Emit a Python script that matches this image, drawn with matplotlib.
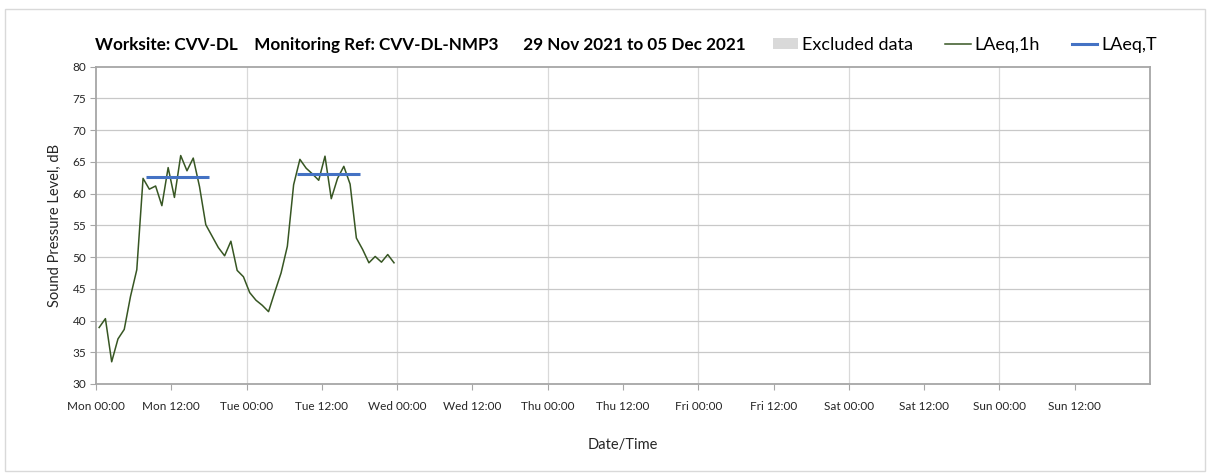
import matplotlib
matplotlib.use("Agg")
import matplotlib.pyplot as plt
from matplotlib.patches import Patch, Rectangle
from matplotlib.lines import Line2D

plt.rcParams['font.family'] = ['Lato', 'DejaVu Sans']

# Hourly LAeq,1h values (hour offset from Mon 00:00, plotted at mid-hour)
hours = [h + 0.5 for h in range(48)]
laeq_1h = [38.9, 40.3, 33.5, 37.1, 38.6, 43.8, 48.0, 62.4, 60.7, 61.2,
           58.1, 64.1, 59.4, 66.0, 63.6, 65.6, 61.1, 55.1, 53.3, 51.5,
           50.2, 52.5, 47.9, 46.9, 44.4, 43.2, 42.4, 41.4, 44.5, 47.5,
           51.7, 61.4, 65.4, 64.0, 63.1, 62.1, 65.9, 59.2, 62.4, 64.3,
           61.5, 53.0, 51.2, 49.1, 50.1, 49.2, 50.4, 49.1]

# LAeq,T daytime periods (start hour, end hour, level)
laeqT_start = [8, 32]
laeqT_end = [18, 42]
laeqT_level = [62.6, 63.1]

tick_hours = list(range(0, 168, 12))
tick_labels = ['Mon 00:00', 'Mon 12:00', 'Tue 00:00', 'Tue 12:00', 'Wed 00:00',
               'Wed 12:00', 'Thu 00:00', 'Thu 12:00', 'Fri 00:00', 'Fri 12:00',
               'Sat 00:00', 'Sat 12:00', 'Sun 00:00', 'Sun 12:00']
y_ticks = list(range(30, 81, 5))

fig = plt.figure(figsize=(12.08, 4.73), dpi=100)
fig.patches.append(Rectangle((5/1208, 2/473), 1200/1208, 462/473, transform=fig.transFigure,
                             fill=False, edgecolor='#D9D9D9', linewidth=1))
ax = fig.add_axes([96/1208, 1-384/473, (1150-96)/1208, (384-66.7)/473])

ax.plot(hours, laeq_1h, color='#375623', linewidth=1.1, zorder=3)
for s, e, v in zip(laeqT_start, laeqT_end, laeqT_level):
    ax.plot([s, e], [v, v], color='#4472C4', linewidth=2.2, solid_capstyle='butt', zorder=4)

ax.set_xlim(0, 168)
ax.set_ylim(30, 80)
ax.set_xticks(tick_hours)
ax.set_xticklabels(tick_labels, fontsize=8.5, color='#262626')
ax.set_yticks(y_ticks)
ax.set_yticklabels([str(v) for v in y_ticks], fontsize=8.5, color='#262626')
for d in range(24, 168, 24):
    ax.axvline(d, color='#D9D9D9', linewidth=0.9, zorder=1)
for v in y_ticks[1:-1]:
    ax.axhline(v, color='#C8C8C8', linewidth=0.9, zorder=1)
for sp in ax.spines.values():
    sp.set_color('#A6A6A6')
    sp.set_linewidth(1.3)
ax.tick_params(axis='both', color='#A6A6A6', length=4, direction='out', pad=3)
ax.tick_params(axis='x', pad=8)

ax.set_ylabel('Sound Pressure Level, dB', fontsize=10.5, color='#262626', labelpad=8)
ax.set_xlabel('Date/Time', fontsize=10.5, color='#262626', labelpad=19)

fig.text(95/1208, 1-45/473,
         'Worksite: CVV-DL    Monitoring Ref: CVV-DL-NMP3      29 Nov 2021 to 05 Dec 2021',
         fontsize=12.3, fontweight='bold', color='#000000', va='center', ha='left')

handles = [Patch(facecolor='#D9D9D9', edgecolor='none'),
           Line2D([], [], color='#375623', linewidth=1.1),
           Line2D([], [], color='#4472C4', linewidth=2.2)]
leg = fig.legend(handles, ['Excluded data', 'LAeq,1h', 'LAeq,T'], ncol=3,
                 loc='center left', bbox_to_anchor=(773/1208, 1-45/473),
                 borderaxespad=0, borderpad=0,
                 frameon=False, fontsize=13, handlelength=1.4, handletextpad=0.2,
                 columnspacing=1.8, handleheight=0.6)

fig.savefig('out.png', dpi=100)
